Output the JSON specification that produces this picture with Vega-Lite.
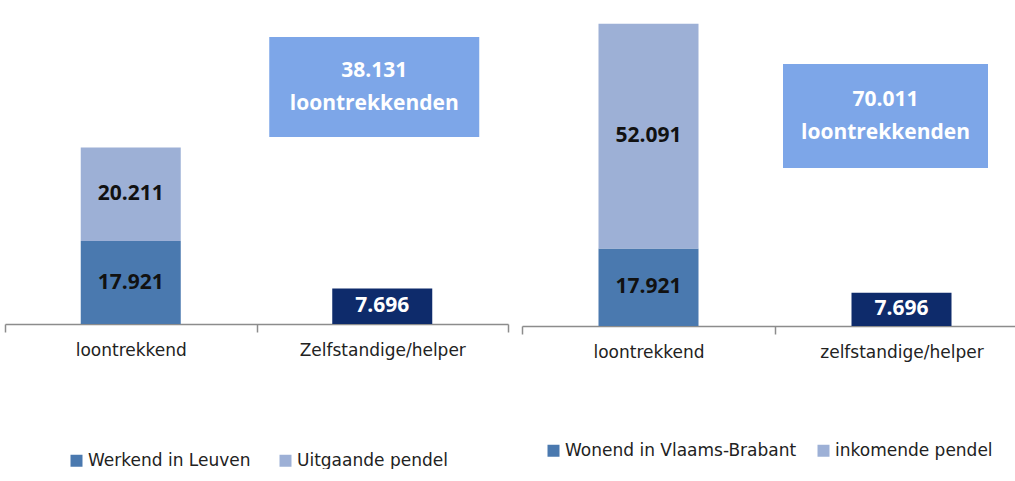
{
  "$schema": "https://vega.github.io/schema/vega-lite/v6.json",
  "padding": {"left": 4, "top": 0, "right": 0, "bottom": 0},
  "spacing": 12,
  "background": "white",
  "datasets": {
    "left": [
      {"cat": "loontrekkend", "series": "Werkend in Leuven", "value": 17921, "ord": 1},
      {"cat": "loontrekkend", "series": "Uitgaande pendel", "value": 20211, "ord": 2},
      {"cat": "Zelfstandige/helper", "series": "Zelfstandige/helper", "value": 7696, "ord": 1}
    ],
    "right": [
      {"cat": "loontrekkend", "series": "Wonend in Vlaams-Brabant", "value": 17921, "ord": 1},
      {"cat": "loontrekkend", "series": "inkomende pendel", "value": 52091, "ord": 2},
      {"cat": "zelfstandige/helper", "series": "zelfstandige/helper", "value": 7696, "ord": 1}
    ],
    "leftBox": [{"cat": "Zelfstandige/helper", "total": 38131, "word": "loontrekkenden"}],
    "rightBox": [{"cat": "zelfstandige/helper", "total": 70011, "word": "loontrekkenden"}]
  },
  "hconcat": [
    {
      "width": 503,
      "height": 324,
      "data": {"name": "left"},
      "layer": [
        {
          "transform": [{"stack": "value", "groupby": ["cat"], "sort": [{"field": "ord"}], "as": ["v0", "v1"]}],
          "mark": {"type": "bar", "width": 100},
          "encoding": {
            "x": {"field": "cat", "type": "nominal", "scale": {"domain": ["loontrekkend", "Zelfstandige/helper"], "paddingInner": 0, "paddingOuter": 0},
              "axis": {"title": null, "labelAngle": 0, "tickBand": "extent", "tickSize": 8, "tickColor": "#8c8c8c", "domainColor": "#8c8c8c", "domainWidth": 1.5, "tickWidth": 1.5, "labelFont": "DejaVu Sans", "labelFontSize": 17, "labelColor": "#222", "labelPadding": 10, "labelLimit": 300}},
            "y": {"field": "v0", "type": "quantitative", "scale": {"domain": [0, 70000], "nice": false}, "axis": null},
            "y2": {"field": "v1"},
            "color": {"field": "series", "type": "nominal",
              "scale": {"domain": ["Werkend in Leuven", "Uitgaande pendel", "Zelfstandige/helper"], "range": ["#4A79AF", "#9DB0D6", "#0E2B6B"]},
              "legend": {"values": ["Werkend in Leuven", "Uitgaande pendel"], "orient": "none", "legendX": 63, "legendY": 452, "direction": "horizontal", "title": null, "symbolType": "square", "symbolSize": 144, "symbolStrokeWidth": 0, "labelFont": "DejaVu Sans", "labelFontSize": 17, "labelColor": "#222", "columnPadding": 26, "labelOffset": 3, "labelLimit": 400}}
          }
        },
        {
          "transform": [
            {"stack": "value", "groupby": ["cat"], "sort": [{"field": "ord"}], "as": ["v0", "v1"]},
            {"calculate": "(datum.v0 + datum.v1) / 2", "as": "mid"}
          ],
          "mark": {"type": "text", "font": "Open Sans", "fontWeight": "bold", "fontSize": 21, "baseline": "middle", "align": "center"},
          "encoding": {
            "x": {"field": "cat", "type": "nominal"},
            "y": {"field": "mid", "type": "quantitative"},
            "text": {"field": "value", "type": "quantitative", "format": ",d"},
            "color": {"condition": {"test": "datum.cat == 'Zelfstandige/helper'", "value": "#ffffff"}, "value": "#111111"}
          }
        },
        {
          "data": {"name": "leftBox"},
          "mark": {"type": "bar", "width": 210, "xOffset": -8, "color": "#7DA6E8"},
          "encoding": {
            "x": {"field": "cat", "type": "nominal"},
            "y": {"datum": 40400},
            "y2": {"datum": 62000}
          }
        },
        {
          "data": {"name": "leftBox"},
          "mark": {"type": "text", "font": "Open Sans", "fontWeight": "bold", "fontSize": 21, "baseline": "middle", "align": "center", "color": "white", "xOffset": -8, "dy": -16},
          "encoding": {
            "x": {"field": "cat", "type": "nominal"},
            "y": {"datum": 51200},
            "text": {"field": "total", "type": "quantitative", "format": ",d"}
          }
        },
        {
          "data": {"name": "leftBox"},
          "mark": {"type": "text", "font": "Open Sans", "fontWeight": "bold", "fontSize": 21, "baseline": "middle", "align": "center", "color": "white", "xOffset": -8, "dy": 17},
          "encoding": {
            "x": {"field": "cat", "type": "nominal"},
            "y": {"datum": 51200},
            "text": {"field": "word", "type": "nominal"}
          }
        }
      ]
    },
    {
      "width": 506,
      "height": 326,
      "data": {"name": "right"},
      "layer": [
        {
          "transform": [{"stack": "value", "groupby": ["cat"], "sort": [{"field": "ord"}], "as": ["v0", "v1"]}],
          "mark": {"type": "bar", "width": 100},
          "encoding": {
            "x": {"field": "cat", "type": "nominal", "scale": {"domain": ["loontrekkend", "zelfstandige/helper"], "paddingInner": 0, "paddingOuter": 0},
              "axis": {"title": null, "labelAngle": 0, "tickBand": "extent", "tickSize": 8, "tickColor": "#8c8c8c", "domainColor": "#8c8c8c", "domainWidth": 1.5, "tickWidth": 1.5, "labelFont": "DejaVu Sans", "labelFontSize": 17, "labelColor": "#222", "labelPadding": 10, "labelLimit": 300}},
            "y": {"field": "v0", "type": "quantitative", "scale": {"domain": [0, 75500], "nice": false}, "axis": null},
            "y2": {"field": "v1"},
            "color": {"field": "series", "type": "nominal",
              "scale": {"domain": ["Wonend in Vlaams-Brabant", "inkomende pendel", "zelfstandige/helper"], "range": ["#4A79AF", "#9DB0D6", "#0E2B6B"]},
              "legend": {"values": ["Wonend in Vlaams-Brabant", "inkomende pendel"], "orient": "none", "legendX": 23, "legendY": 442, "direction": "horizontal", "title": null, "symbolType": "square", "symbolSize": 144, "symbolStrokeWidth": 0, "labelFont": "DejaVu Sans", "labelFontSize": 17, "labelColor": "#222", "columnPadding": 18, "labelOffset": 3, "labelLimit": 400}}
          }
        },
        {
          "transform": [
            {"stack": "value", "groupby": ["cat"], "sort": [{"field": "ord"}], "as": ["v0", "v1"]},
            {"calculate": "(datum.v0 + datum.v1) / 2", "as": "mid"}
          ],
          "mark": {"type": "text", "font": "Open Sans", "fontWeight": "bold", "fontSize": 21, "baseline": "middle", "align": "center"},
          "encoding": {
            "x": {"field": "cat", "type": "nominal"},
            "y": {"field": "mid", "type": "quantitative"},
            "text": {"field": "value", "type": "quantitative", "format": ",d"},
            "color": {"condition": {"test": "datum.cat == 'zelfstandige/helper'", "value": "#ffffff"}, "value": "#111111"}
          }
        },
        {
          "data": {"name": "rightBox"},
          "mark": {"type": "bar", "width": 205, "xOffset": -16, "color": "#7DA6E8"},
          "encoding": {
            "x": {"field": "cat", "type": "nominal"},
            "y": {"datum": 36600},
            "y2": {"datum": 60700}
          }
        },
        {
          "data": {"name": "rightBox"},
          "mark": {"type": "text", "font": "Open Sans", "fontWeight": "bold", "fontSize": 21, "baseline": "middle", "align": "center", "color": "white", "xOffset": -16, "dy": -16},
          "encoding": {
            "x": {"field": "cat", "type": "nominal"},
            "y": {"datum": 48650},
            "text": {"field": "total", "type": "quantitative", "format": ",d"}
          }
        },
        {
          "data": {"name": "rightBox"},
          "mark": {"type": "text", "font": "Open Sans", "fontWeight": "bold", "fontSize": 21, "baseline": "middle", "align": "center", "color": "white", "xOffset": -16, "dy": 17},
          "encoding": {
            "x": {"field": "cat", "type": "nominal"},
            "y": {"datum": 48650},
            "text": {"field": "word", "type": "nominal"}
          }
        }
      ]
    }
  ],
  "resolve": {
    "scale": {"color": "independent", "x": "independent", "y": "independent"},
    "legend": {"color": "independent"}
  },
  "config": {
    "view": {"stroke": null},
    "locale": {"number": {"decimal": ",", "thousands": ".", "grouping": [3], "currency": ["€", ""]}}
  }
}
